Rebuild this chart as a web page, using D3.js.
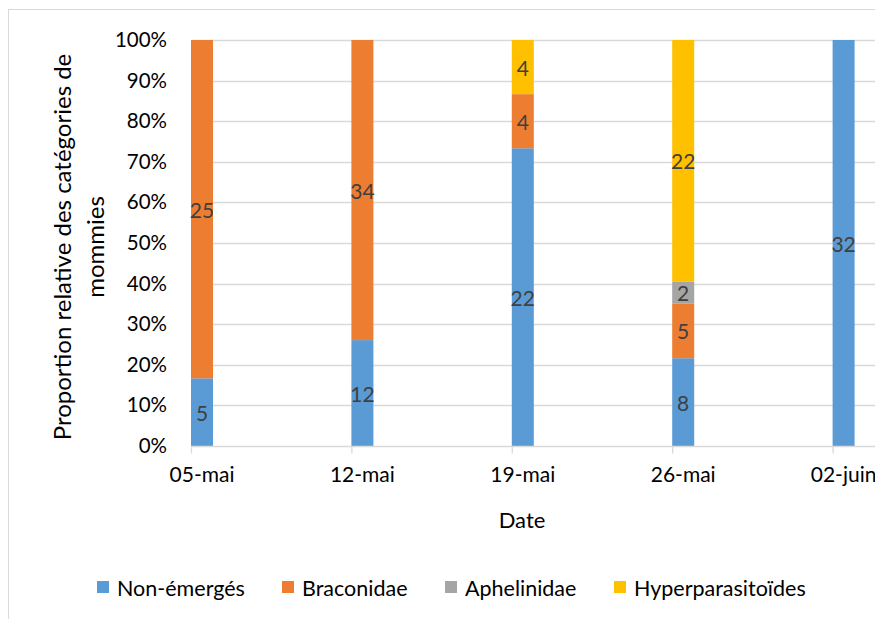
<!DOCTYPE html>
<html>
<head>
<meta charset="utf-8">
<script src="https://cdn.jsdelivr.net/npm/d3@7"></script>
<style>
  body { margin: 0; background: #fff; }
  svg { display: block; font-family: Lato, "Open Sans", sans-serif; }
</style>
</head>
<body>
<svg id="chart" width="875" height="619"></svg>
<script>
// Mummy counts per sampling date
const dates = ["05-mai", "12-mai", "19-mai", "26-mai", "02-juin"];
const nonEmerges = [5, 12, 22, 8, 32];
const braconidae = [25, 34, 4, 5, 0];
const aphelinidae = [0, 0, 0, 2, 0];
const hyperparasitoides = [0, 0, 4, 22, 0];
const seriesNames = ["Non-émergés", "Braconidae", "Aphelinidae", "Hyperparasitoïdes"];
const seriesColors = ["#5b9bd5", "#ed7d31", "#a5a5a5", "#ffc000"];
const yTicks = [0, 0.1, 0.2, 0.3, 0.4, 0.5, 0.6, 0.7, 0.8, 0.9, 1];

const svg = d3.select("#chart");
const W = 875, H = 619;

// chart frame
svg.append("rect")
  .attr("x", 8.5).attr("y", 9.5).attr("width", W + 20).attr("height", H + 20)
  .attr("fill", "#fff").attr("stroke", "#d9d9d9").attr("stroke-width", 1);

const plotLeft = 191, plotRight = 875, plotTop = 40, plotBottom = 446;
const barW = 22;

const x = d3.scalePoint().domain(dates).range([plotLeft, 832.6]);
const y = d3.scaleLinear().domain([0, 1]).range([plotBottom, plotTop]);

// gridlines
svg.append("g").selectAll("line").data(yTicks.slice(1)).join("line")
  .attr("x1", plotLeft).attr("x2", plotRight)
  .attr("y1", d => Math.round(y(d)) + 0.5).attr("y2", d => Math.round(y(d)) + 0.5)
  .attr("stroke", "#d9d9d9").attr("stroke-width", 1.3);

// y tick labels
const yAxis = d3.axisLeft(y).tickValues(yTicks).tickFormat(d3.format(".0%")).tickSize(0).tickPadding(0);
const gy = svg.append("g").attr("transform", `translate(167,0)`).call(yAxis);
gy.select(".domain").remove();
gy.selectAll("text").attr("font-size", 20.5).attr("fill", "#000").attr("font-family", "Lato, sans-serif");

// stacked proportions
const rows = dates.map((d, i) => ({
  date: d,
  "Non-émergés": nonEmerges[i],
  "Braconidae": braconidae[i],
  "Aphelinidae": aphelinidae[i],
  "Hyperparasitoïdes": hyperparasitoides[i]
}));
const stack = d3.stack().keys(seriesNames).offset(d3.stackOffsetExpand);
const layers = stack(rows);

const gBars = svg.append("g");
layers.forEach((layer, k) => {
  gBars.append("g").attr("fill", seriesColors[k])
    .selectAll("rect").data(layer).join("rect")
    .attr("x", d => x(d.data.date))
    .attr("width", barW)
    .attr("y", d => y(d[1]))
    .attr("height", d => Math.max(0, y(d[0]) - y(d[1])));
});

// value labels
layers.forEach((layer, k) => {
  svg.append("g").selectAll("text").data(layer.filter(d => d.data[layer.key] > 0)).join("text")
    .attr("x", d => x(d.data.date) + barW / 2)
    .attr("y", d => (y(d[0]) + y(d[1])) / 2)
    .attr("text-anchor", "middle").attr("dominant-baseline", "central")
    .attr("font-size", 21).attr("fill", "#404040")
    .text(d => d.data[layer.key]);
});

// x axis
const gx = svg.append("g").attr("transform", `translate(0,${plotBottom + 0.5})`);
gx.append("line").attr("x1", plotLeft).attr("x2", plotRight).attr("stroke", "#d9d9d9").attr("stroke-width", 1.3);
gx.selectAll("line.tick").data(dates).join("line").attr("class", "tick")
  .attr("x1", d => x(d) + 0.5).attr("x2", d => x(d) + 0.5).attr("y1", 0).attr("y2", 7)
  .attr("stroke", "#d9d9d9").attr("stroke-width", 1.3);
gx.selectAll("text").data(dates).join("text")
  .attr("x", d => x(d) + barW / 2).attr("y", 35)
  .attr("text-anchor", "middle").attr("font-size", 21).attr("fill", "#000")
  .text(d => d);

// axis titles
svg.append("text").attr("x", 522).attr("y", 528).attr("text-anchor", "middle")
  .attr("font-size", 22).attr("fill", "#000").text("Date");
const yt = svg.append("text").attr("transform", "translate(0,247) rotate(-90)")
  .attr("text-anchor", "middle").attr("font-size", 24).attr("fill", "#000");
yt.append("tspan").attr("x", 0).attr("y", 71).text("Proportion relative des catégories de");
yt.append("tspan").attr("x", 0).attr("y", 104).text("mommies");

// legend
const legendX = [97, 282, 445, 614];
const lg = svg.append("g");
seriesNames.forEach((name, k) => {
  lg.append("rect").attr("x", legendX[k]).attr("y", 581).attr("width", 12).attr("height", 12).attr("fill", seriesColors[k]);
  lg.append("text").attr("x", legendX[k] + 20).attr("y", 588).attr("dominant-baseline", "central")
    .attr("font-size", 21.5).attr("fill", "#000").text(name);
});
</script>
</body>
</html>
